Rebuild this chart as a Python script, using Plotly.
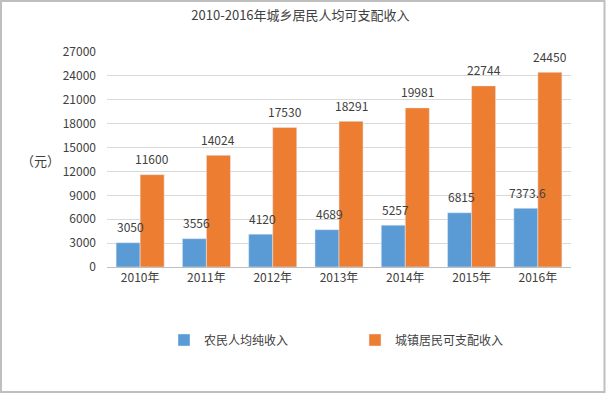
import plotly.graph_objects as go

years = ["2010年", "2011年", "2012年", "2013年", "2014年", "2015年", "2016年"]
rural = [3050, 3556, 4120, 4689, 5257, 6815, 7373.6]
urban = [11600, 14024, 17530, 18291, 19981, 22744, 24450]
rural_labels = ["3050", "3556", "4120", "4689", "5257", "6815", "7373.6"]
urban_labels = ["11600", "14024", "17530", "18291", "19981", "22744", "24450"]
yticks = [0, 3000, 6000, 9000, 12000, 15000, 18000, 21000, 24000, 27000]

W, H = 607, 394
ML, MR, MT, MB = 107, 36, 52, 127
FONT = "Noto Sans CJK SC"
TXT = "#404040"

fig = go.Figure()
fig.add_bar(x=years, y=rural, name="农民人均纯收入", marker_color="#5B9BD5")
fig.add_bar(x=years, y=urban, name="城镇居民可支配收入", marker_color="#ED7D31")

annotations = []
for i, y in enumerate(years):
    annotations.append(dict(x=y, y=rural[i], text=rural_labels[i], xref="x", yref="y",
                            showarrow=False, xshift=-10, yshift=16,
                            font=dict(family=FONT, size=12, color=TXT)))
    annotations.append(dict(x=y, y=urban[i], text=urban_labels[i], xref="x", yref="y",
                            showarrow=False, xshift=12, yshift=16,
                            font=dict(family=FONT, size=12, color=TXT)))

pw = W - ML - MR
ph = H - MT - MB
annotations.append(dict(x=(40 - ML) / pw, y=(H - MB - 160) / ph, xref="paper", yref="paper",
                        xanchor="center", yanchor="middle",
                        text="（元）", showarrow=False,
                        font=dict(family=FONT, size=13, color=TXT)))

fig.update_layout(
    width=W, height=H,
    margin=dict(l=ML, r=MR, t=MT, b=MB, pad=0),
    paper_bgcolor="white", plot_bgcolor="white",
    barmode="group", bargap=0.275, bargroupgap=0,
    title=dict(text="2010-2016年城乡居民人均可支配收入", x=0.495, xanchor="center",
               y=1 - 15 / H, yanchor="middle",
               font=dict(family=FONT, size=13, color=TXT)),
    font=dict(family=FONT, size=12, color=TXT),
    xaxis=dict(showgrid=False, showline=True, linecolor="#BFBFBF", linewidth=1,
               ticks="", tickfont=dict(family=FONT, size=12, color=TXT)),
    yaxis=dict(range=[0, 27000], tickvals=yticks, tickformat="d",
               showgrid=True, gridcolor="#D9D9D9",
               gridwidth=1, zeroline=False, showline=False, ticks="",
               ticklabelstandoff=10,
               tickfont=dict(family=FONT, size=12, color=TXT)),
    legend=dict(orientation="h", x=(164 - ML) / pw, xanchor="left",
                y=-(340 - (H - MB)) / ph, yanchor="middle",
                itemwidth=30, entrywidth=146, entrywidthmode="pixels",
                font=dict(family=FONT, size=12, color=TXT)),
    annotations=annotations,
    shapes=[dict(type="rect", xref="paper", yref="paper",
                 x0=(1 - ML) / pw, x1=(W - 2.5 - ML) / pw,
                 y0=-(MB - 2) / ph,
                 y1=(H - MB - 1) / ph,
                 line=dict(color="#BFBFBF", width=2), fillcolor="rgba(0,0,0,0)", layer="above")],
)

fig.write_html("out.html", config={"displayModeBar": False},
               post_script="document.body.style.margin='0';")
